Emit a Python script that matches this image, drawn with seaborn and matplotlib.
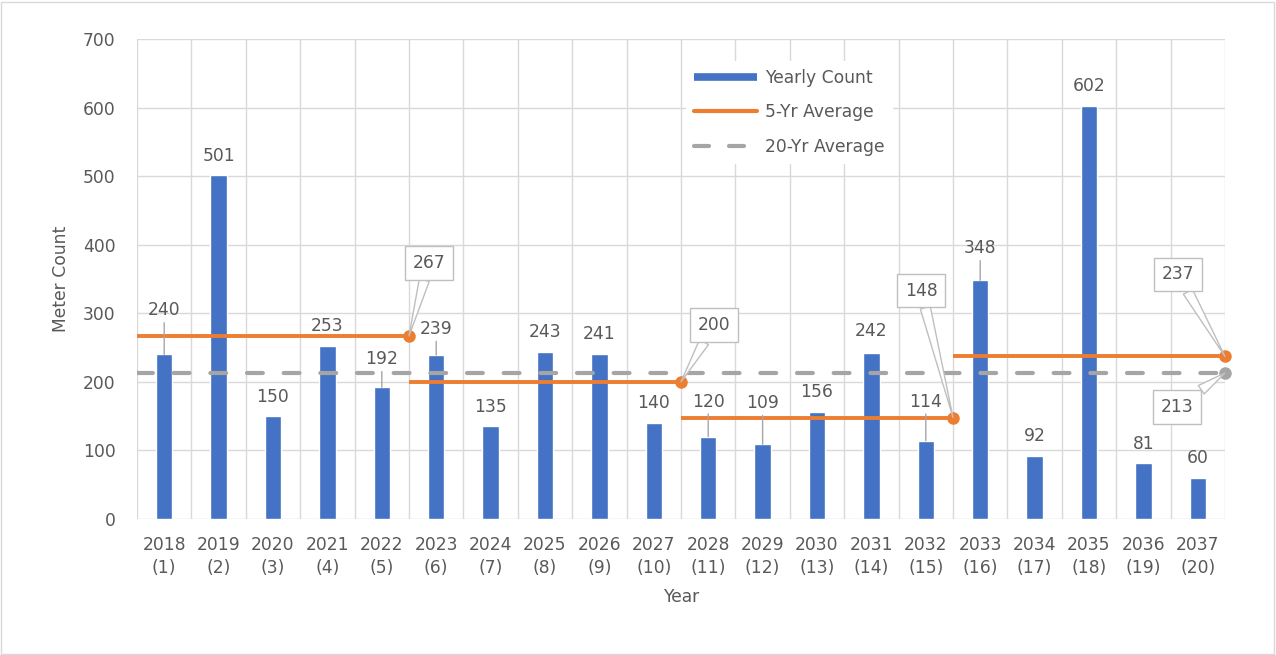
import matplotlib
matplotlib.use("Agg")
import matplotlib.pyplot as plt
from matplotlib.lines import Line2D
from matplotlib.patches import Rectangle
import seaborn as sns
import pandas as pd
import numpy as np

# ---------------- data ----------------
years = [2018, 2019, 2020, 2021, 2022, 2023, 2024, 2025, 2026, 2027,
         2028, 2029, 2030, 2031, 2032, 2033, 2034, 2035, 2036, 2037]
year_index = list(range(1, 21))
yearly_count = [240, 501, 150, 253, 192, 239, 135, 243, 241, 140,
                120, 109, 156, 242, 114, 348, 92, 602, 81, 60]
five_yr_avg = [267, 200, 148, 237]
twenty_yr_avg = 213
tick_labels = [f"{y}\n({i})" for y, i in zip(years, year_index)]

# ---------------- styling ----------------
BLUE = "#4472C4"
ORANGE = "#ED7D31"
GRAY = "#A5A5A5"
GRID = "#D9D9D9"
TXT = "#595959"
FONT = ["DejaVu Sans"]
FS = 12.3

# label offsets above bar tops (pixels) and callout offsets (pixels)
label_offsets = [44, 19, 19, 20, 28, 26, 19, 20, 20, 20,
                 35, 41, 20, 22, 39, 32, 20, 20, 19, 20]
callout_offsets_5yr = [(20, 73), (33, 57), (-32, 127), (-47, 82)]
callout_offset_20yr = (-48, -34)

sns.set_theme(style="white")
plt.rcParams["font.family"] = FONT
plt.rcParams["text.color"] = TXT
plt.rcParams["axes.labelcolor"] = TXT
plt.rcParams["xtick.color"] = TXT
plt.rcParams["ytick.color"] = TXT

W, H = 1276, 655
fig = plt.figure(figsize=(W / 100, H / 100), dpi=100)
fig.patch.set_facecolor("white")
ax = fig.add_axes([137 / W, 136 / H, 1088 / W, 480 / H])

df = pd.DataFrame({"label": tick_labels, "count": yearly_count})
sns.barplot(data=df, x="label", y="count", color=BLUE, width=0.3,
            saturation=1, ax=ax, zorder=3)

n = len(yearly_count)
ax.set_xlim(-0.5, n - 0.5)
ax.set_ylim(0, 700)
ax.set_yticks(np.arange(0, 701, 100))

# grid
ax.set_xticks(np.arange(-0.5, n, 1.0), minor=True)
ax.grid(False)
ax.grid(axis="y", which="major", color=GRID, lw=1.0, zorder=0)
ax.grid(axis="x", which="minor", color=GRID, lw=1.0, zorder=0)
ax.tick_params(axis="both", which="both", length=0)
ax.tick_params(axis="x", which="major", pad=12.5, labelsize=FS)
ax.tick_params(axis="y", which="major", pad=15.5, labelsize=FS)
for t in ax.get_xticklabels():
    t.set_linespacing(1.3)
for s in ax.spines.values():
    s.set_visible(False)
ax.set_axisbelow(True)

# 20-year average (dashed)
ax.plot([-0.5, n - 0.5], [twenty_yr_avg, twenty_yr_avg], color=GRAY, lw=3,
        dashes=(3.8, 5), dash_capstyle="round", zorder=4)
ax.plot([n - 0.5], [twenty_yr_avg], "o", color=GRAY, ms=8, zorder=5,
        clip_on=False)

# 5-year averages
grp = n // len(five_yr_avg)
for g, v in enumerate(five_yr_avg):
    x0 = g * grp - 0.5
    x1 = x0 + grp
    ax.plot([x0, x1], [v, v], color=ORANGE, lw=2.8, solid_capstyle="butt",
            zorder=5)
    ax.plot([x1], [v], "o", color=ORANGE, ms=8, zorder=6, clip_on=False)

# data labels
for i, (v, off) in enumerate(zip(yearly_count, label_offsets)):
    kw = {}
    if off > 24:
        kw["arrowprops"] = dict(arrowstyle="-", color="#A6A6A6", lw=1,
                                shrinkA=0, shrinkB=0)
    ax.annotate(str(v), xy=(i, v), xytext=(0, off), textcoords="offset pixels",
                ha="center", va="center", fontsize=FS, color=TXT, zorder=7,
                **kw)

# callouts
def callout(x, y, text, off):
    ax.annotate(text, xy=(x, y), xytext=off, textcoords="offset pixels",
                ha="center", va="center", fontsize=FS, color=TXT, zorder=8,
                annotation_clip=False,
                bbox=dict(boxstyle="square,pad=0.45", fc="white",
                          ec="#BFBFBF", lw=1),
                arrowprops=dict(arrowstyle="wedge,tail_width=0.6,shrink_factor=0.5",
                                fc="white", ec="#BFBFBF", lw=1,
                                shrinkA=0, shrinkB=0))

for g, (v, off) in enumerate(zip(five_yr_avg, callout_offsets_5yr)):
    callout(g * grp - 0.5 + grp, v, str(v), off)
callout(n - 0.5, twenty_yr_avg, str(twenty_yr_avg), callout_offset_20yr)

ax.set_xlabel("Year", fontsize=FS, labelpad=8.5)
ax.set_ylabel("Meter Count", fontsize=FS, labelpad=9)

# legend
handles = [
    Line2D([], [], color=BLUE, lw=5.5, solid_capstyle="butt"),
    Line2D([], [], color=ORANGE, lw=3, solid_capstyle="round"),
    Line2D([], [], color=GRAY, lw=3, dashes=(3.6, 4.8), dash_capstyle="round"),
]
leg = ax.legend(handles, ["Yearly Count", "5-Yr Average", "20-Yr Average"],
                loc="upper left", bbox_to_anchor=(677 / W, 1 - 52 / H),
                bbox_transform=fig.transFigure, frameon=True, fancybox=False,
                facecolor="white", edgecolor="none", framealpha=1,
                handlelength=3.7, handletextpad=0.45, labelspacing=0.95,
                borderpad=0.5, fontsize=FS)
leg.set_zorder(9)
for t in leg.get_texts():
    t.set_color(TXT)

# figure border
fig.patches.append(Rectangle((1 / W, 1 / H), 1 - 3 / W, 1 - 3 / H,
                             transform=fig.transFigure, fill=False,
                             ec="#D9D9D9", lw=1))

fig.savefig("out.png", dpi=100)
